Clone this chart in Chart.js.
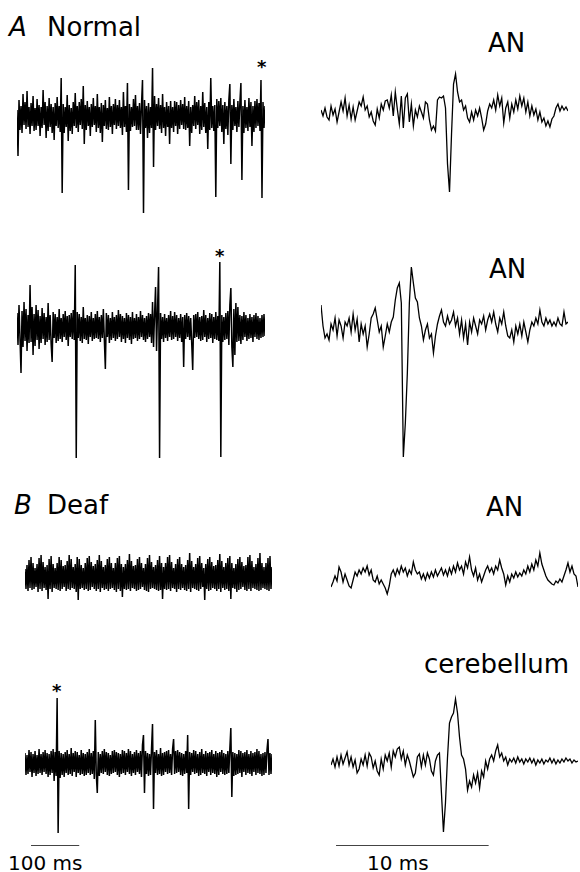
<!DOCTYPE html>
<html>
<head>
<meta charset="utf-8">
<script src="https://cdn.jsdelivr.net/npm/chart.js@4.4.1/dist/chart.umd.min.js"></script>
<style>
body { margin: 0; width: 580px; height: 872px; position: relative; background: #fff; overflow: hidden; font-family: "DejaVu Sans", sans-serif; color: #000; }
canvas, .t { position: absolute; }
.t { line-height: 1; white-space: nowrap; font-size: 26px; }
.star { font-size: 18px; font-weight: bold; }
.small { font-size: 20px; }
</style>
</head>
<body>
<span class="t" style="left:9px;top:14px;font-style:italic">A</span>
<span class="t" style="left:47px;top:14px">Normal</span>
<span class="t" style="left:488px;top:30px">AN</span>
<span class="t" style="left:489px;top:256px">AN</span>
<span class="t" style="left:14px;top:492px;font-style:italic">B</span>
<span class="t" style="left:47px;top:492px">Deaf</span>
<span class="t" style="left:486px;top:494px">AN</span>
<span class="t" style="left:424px;top:651px">cerebellum</span>
<span class="t star" style="left:257px;top:58px">*</span>
<span class="t star" style="left:215px;top:247px">*</span>
<span class="t star" style="left:52px;top:682px">*</span>
<span class="t small" style="left:8px;top:853px">100 ms</span>
<span class="t small" style="left:367px;top:853px">10 ms</span>

<canvas id="l1" width="248" height="165" style="left:17px;top:55px"></canvas>
<canvas id="r1" width="247" height="135" style="left:321px;top:65px"></canvas>
<canvas id="l2" width="248" height="225" style="left:17px;top:245px"></canvas>
<canvas id="r2" width="247" height="210" style="left:321px;top:255px"></canvas>
<canvas id="l3" width="247" height="70" style="left:25px;top:540px"></canvas>
<canvas id="r3" width="247" height="60" style="left:331px;top:545px"></canvas>
<canvas id="l4" width="247" height="172" style="left:25px;top:680px"></canvas>
<canvas id="r4" width="247" height="172" style="left:331px;top:680px"></canvas>

<script>
// recordings, arbitrary units (up = positive), one sample per point
// long sweeps: 100 ms = 48 samples; short sweeps (spike shape): 10 ms = 76 samples
const LONG_MS = 100 / 48;
const SHORT_MS = 10 / 76;
const SCALE_LONG = 100;   // ms
const SCALE_SHORT = 10;   // ms

const normal1Long = [
  6,-40,16,-14,10,-17,22,-9,14,-13,25,-11,9,-18,13,-10,20,-15,8,-14,
  17,-10,11,-20,9,-12,26,-9,14,-22,10,-15,18,-11,12,-17,9,-24,13,-10,
  19,-12,10,-16,38,-77,12,-17,9,-11,21,-25,11,-15,8,-18,14,-10,23,-12,
  10,-16,14,-9,17,-13,30,-28,11,-14,15,-10,9,-20,12,-11,18,-9,10,-16,
  22,-12,9,-17,13,-26,11,-10,16,-13,8,-14,19,-11,10,-18,12,-9,17,-13,
  11,-10,16,-12,9,-19,24,-11,10,-16,33,-74,12,-15,9,-11,17,-10,21,-14,
  10,-14,13,-18,11,36,-97,16,-12,10,-22,13,-17,9,-12,48,-51,20,-14,12,
  -10,18,-13,11,-17,22,-12,9,-20,14,-11,10,-28,15,-12,9,-16,15,-10,14,
  -18,11,-13,16,-9,12,-13,19,-14,10,-12,15,-30,9,-17,11,-10,20,-13,14,
  -9,16,-18,10,-14,24,-11,13,-17,9,-33,14,-14,38,-12,10,-15,11,-81,17,
  -12,15,-10,18,-16,11,-28,14,-13,10,-19,16,32,-48,11,-14,17,-10,9,-16,
  15,-11,14,33,-64,10,-17,16,-12,9,-15,18,-11,14,-30,10,-16,15,-12,17,
  -10,13,-15,36,-82,14,-12,10
];
const normal1Short = [
  4,-2,6,-3,-6,8,-1,5,-8,2, 12,3,16,-2,9,-5,7,-6,3,12,
  8,17,4,8,-3,2,-7,-11,5,-4, 10,4,13,14,6,19,-2,22,5,-10,
  18,-14,16,20,-8,10,-12,4,-3,8, 2,-4,12,10,-6,-16,-12,-17,14,17,
  16,18,6,-50,-78,-20,30,40,22,12, 14,4,8,-4,-8,2,-6,4,-2,6,
  -4,-16,-10,3,10,6,14,4,19,8, 16,-9,6,12,-4,10,2,14,5,18,
  8,16,2,12,-2,8,-1,5,-6,2, -8,-4,-12,-7,-13,-5,-2,6,10,3,
  8,4,7,3
];
const normal2Long = [
  14,-18,22,-12,-46,16,-20,25,-14,18,-24,12,-16,42,-15,20,-28,13,-19,22,
  -13,17,-22,11,-16,19,-12,14,-18,10,-15,24,-13,12,-17,-35,15,-11,13,-16,
  10,-14,18,-12,9,-15,13,-10,16,-13,11,-19,12,-10,14,-12,17,-13,62,-131,
  15,-11,13,-14,10,-16,20,-12,9,-13,12,-17,11,-10,15,-14,9,-12,13,-11,
  16,-12,10,-15,12,-11,18,-13,-42,14,-10,12,-16,9,-13,15,-11,10,-14,12,
  -12,17,-10,13,-15,11,-12,9,-16,14,-11,12,-13,10,-17,15,-12,9,-11,13,
  -14,10,-12,16,-10,12,-13,9,-15,11,-12,14,-10,13,-16,25,-20,12,40,-24,
  18,60,-131,14,-12,10,-15,13,-11,9,-14,12,-10,16,-13,11,-12,15,-10,12,
  -14,9,-11,13,-15,10,-40,12,-12,14,-10,11,-13,9,-16,-43,12,-11,13,-10,
  15,-12,10,-14,11,-13,17,-10,12,-15,9,-12,14,-11,13,-16,10,-12,15,-13,
  11,-14,65,-130,12,-15,10,-13,14,-12,16,-18,22,39,-20,-40,18,-28,24,-15,
  20,-14,12,-17,11,-13,15,-10,12,-14,9,-12,13,-11,10,-15,12,-10,14,-12,
  11,-13,9,-11,12,-10,13,-9
];
const normal2Short = [
  23,2,-10,-6,-12,4,-2,10,-8,8, 2,-10,6,2,10,-4,14,-2,9,-14,
  4,-6,2,-19,-6,10,14,20,8,-4, 2,-19,-8,4,-4,6,11,28,40,45,
  25,-129,-95,-45,25,61,45,30,26,10, 2,-12,-2,4,-10,-6,-25,-8,4,12,
  18,6,2,12,4,8,16,2,10,-6, 8,-10,4,-17,6,-4,10,2,-6,8,
  4,12,-2,8,14,6,16,4,-4,10, 4,16,2,-8,-10,-2,-14,2,-6,4,
  -8,6,-4,-14,-2,6,2,10,4,18, 6,2,10,4,8,2,6,2,10,4,
  2,16,4,6
];
const deaf1Long = [
  8,-12,12,-14,17,-11,20,-13,14,-12,9,-10,13,-15,19,-12,22,-14,15,-11,
  10,-13,12,-22,18,-12,21,-15,13,-11,9,-12,14,-13,20,-14,17,-12,11,-10,
  12,-14,16,-12,22,-13,18,-11,10,-12,13,-15,20,-23,18,-12,12,-11,9,-13,
  14,-12,19,-14,21,-13,15,-10,11,-12,13,-14,17,-12,22,-15,16,-11,10,-13,
  12,-12,18,-14,20,-12,14,-11,9,-13,14,-15,19,-12,21,-14,13,-20,10,-12,
  13,-13,17,-12,23,-14,16,-11,11,-12,12,-14,18,-13,20,-12,14,-10,9,-13,
  13,-14,19,-15,22,-12,15,-11,10,-12,12,-13,17,-14,21,-13,14,-22,10,-12,
  14,-13,20,-12,22,-14,15,-11,9,-12,13,-15,18,-12,20,-13,13,-11,10,-13,
  12,-14,17,-12,24,-15,16,-11,10,-12,13,-13,19,-14,21,-12,14,-10,9,-23,
  13,-12,18,-14,20,-13,15,-11,11,-12,12,-14,17,-12,23,-15,16,-11,10,-13,
  14,-12,19,-14,21,-22,14,-11,9,-12,13,-15,18,-13,20,-12,15,-10,11,-13,
  12,-14,20,-12,22,-14,16,-11,10,-12,13,-13,19,-14,24,-13,14,-11,10,-12,
  14,-13,19,-14,21,-12,10
];
const deaf1Short = [
  -9,-4,2,-3,11,6,-4,4,-2,-8, -10,-2,6,2,8,4,10,6,12,3,
  8,-2,-4,2,-6,-2,-6,-10,-16,-8, 4,8,2,9,4,12,6,10,2,8,
  4,16,8,4,6,-1,4,-2,5,0, 6,1,8,2,6,10,3,8,2,10,
  4,12,6,15,8,12,4,16,10,21, 8,2,10,-2,4,-4,2,8,12,6,
  10,4,12,8,18,10,4,-7,2,-4, 4,0,6,1,5,2,8,4,12,6,
  14,8,18,12,25,14,8,2,-2,-4, -6,-7,-3,-5,-1,-4,2,8,15,6,
  12,4,2,-9
];
const deaf2Long = [
  10,-12,8,-11,13,-9,11,-14,9,-10,12,-13,8,-11,14,-10,9,-12,11,-9,
  13,-11,10,-14,9,-12,12,-10,14,-18,11,-13,65,-70,12,-15,10,-12,9,-14,
  11,-10,13,-12,9,-11,15,-13,10,-9,12,-14,11,-10,8,-12,13,-11,10,-13,
  9,-12,11,-10,14,-12,10,-11,12,-16,43,-12,-30,11,-13,9,-10,12,-11,14,
  -9,11,-12,10,-13,8,-11,12,-10,13,-9,11,-12,10,-14,9,-11,13,-10,12,
  -12,10,-9,14,-11,12,-13,9,-10,11,-12,13,-9,10,-11,12,-14,18,28,-30,
  12,-11,10,-13,9,-12,14,39,-46,11,-10,13,-12,9,-11,15,-13,10,-12,11,
  -9,12,-11,13,-10,9,-12,14,24,-11,12,-10,13,-9,11,-12,10,-13,9,-11,
  12,-10,28,-46,11,-12,10,-9,13,-11,12,-10,9,-13,11,-12,14,-10,9,-11,
  12,-13,10,-9,11,-12,13,-10,9,-11,12,-14,10,-12,11,-9,13,-11,10,-12,
  9,-11,12,-10,14,35,-34,11,-13,10,-12,9,-11,13,-10,12,-14,10,-9,11,
  -12,13,-10,9,-11,12,-13,10,-9,11,-12,14,-10,12,-11,9,-13,10,-12,11,
  -10,13,24,-12,10,-11,9
];
const deaf2Short = [
  -2,4,-4,6,-3,8,-1,5,11,-2, 6,-4,3,-10,-6,4,-2,8,-3,10,
  6,-5,2,-8,-12,4,-6,8,2,10, -4,12,6,14,16,4,12,-2,8,2,
  -6,-14,-10,6,9,-4,8,-2,10,4, -8,-12,2,8,10,-30,-69,-40,5,40,
  46,50,64,50,26,8,4,-6,-27,-18, -24,-12,-20,-10,-25,-8,-14,2,-6,4,
  8,2,12,18,6,10,2,6,-2,4, 1,5,0,6,1,4,-1,4,1,5,
  0,4,-2,3,0,4,-1,3,1,5, 0,4,-1,3,0,4,1,5,2,4,
  0,3,1,2
];

function trace(id, values, msPerSample, baseline, lineWidth, scaleBar) {
  const cv = document.getElementById(id);
  const top = cv.offsetTop;
  const pts = values.map((v, i) => ({ x: i * msPerSample, y: v }));
  const sets = [{
    data: pts, showLine: true, borderColor: '#000', borderWidth: lineWidth,
    pointRadius: 0, tension: 0
  }];
  if (scaleBar) {
    const yv = baseline - scaleBar.y;
    sets.push({
      data: [{ x: scaleBar.from, y: yv }, { x: scaleBar.from + scaleBar.ms, y: yv }],
      showLine: true, borderColor: '#444', borderWidth: 1, pointRadius: 0
    });
  }
  new Chart(cv, {
    type: 'scatter',
    data: { datasets: sets },
    options: {
      responsive: false, animation: false, events: [], clip: false,
      layout: { padding: 0 },
      plugins: { legend: { display: false }, tooltip: { enabled: false } },
      scales: {
        x: { display: false, min: 0, max: (values.length - 1) * msPerSample },
        y: { display: false, min: baseline - (top + cv.height), max: baseline - top }
      }
    }
  });
}

trace('l1', normal1Long, LONG_MS, 116, 1.5);
trace('r1', normal1Short, SHORT_MS, 114, 1.3);
trace('l2', normal2Long, LONG_MS, 327, 1.5);
trace('r2', normal2Short, SHORT_MS, 328, 1.3);
trace('l3', deaf1Long, LONG_MS, 577, 1.5);
trace('r3', deaf1Short, SHORT_MS, 578, 1.3);
trace('l4', deaf2Long, LONG_MS, 763, 1.5, { from: 12.5, ms: SCALE_LONG, y: 845.5 });
trace('r4', deaf2Short, SHORT_MS, 763, 1.3, { from: 0.33, ms: SCALE_SHORT, y: 845.5 });
</script>
</body>
</html>
